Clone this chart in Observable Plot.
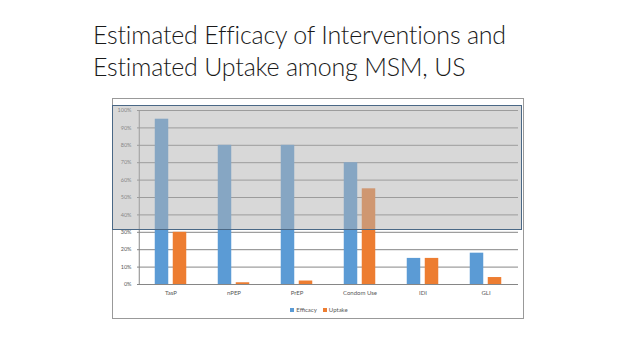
<!DOCTYPE html>
<html>
<head>
<meta charset="utf-8">
<script src="https://cdn.jsdelivr.net/npm/d3@7"></script>
<script src="https://cdn.jsdelivr.net/npm/@observablehq/plot@0.6"></script>
<style>
  html, body { margin: 0; padding: 0; background: #fff; }
  body { width: 638px; height: 359px; position: relative; overflow: hidden; font-family: Lato, "Open Sans", sans-serif; }
  #title { position: absolute; left: 93px; top: 18px; font-size: 25px; line-height: 32px; letter-spacing: -0.2px; color: #1a1a1a; font-weight: 300; white-space: nowrap; }
  #frame { position: absolute; left: 112px; top: 98px; width: 410px; height: 219px; border: 1px solid #999; }
  #chart { position: absolute; left: 113px; top: 99px; }
  #overlay { position: absolute; left: 112px; top: 105px; width: 408px; height: 123px; background: rgba(178,178,178,0.5); border: 1px solid #4a6886; }
  #legend { position: absolute; left: 0; width: 638px; top: 306px; text-align: center; font-size: 6px; color: #595959; }
  #legend span.sw { display: inline-block; width: 4px; height: 4px; margin-right: 2px; vertical-align: middle; }
  #legend span.item { margin: 0 3px; }
</style>
</head>
<body>
<div id="title">Estimated Efficacy of Interventions and<br>Estimated Uptake among MSM, US</div>
<div id="frame"></div>
<div id="chart"></div>
<div id="overlay"></div>
<div id="legend"></div>
<script>
const categories = ["TasP", "nPEP", "PrEP", "Condom Use", "IDI", "GLI"];
const seriesNames = ["Efficacy", "Uptake"];
const efficacy = [95, 80, 80, 70, 15, 18];
const uptake = [30, 1, 2, 55, 15, 4];
const yTicks = [0, 10, 20, 30, 40, 50, 60, 70, 80, 90, 100];
const colors = ["#5B9BD5", "#ED7D31"];

const rows = [];
categories.forEach((c, i) => {
  rows.push({category: c, series: seriesNames[0], value: efficacy[i]});
  rows.push({category: c, series: seriesNames[1], value: uptake[i]});
});

const W = 408, mL = 24, mR = 3;
const band = (W - mL - mR) / categories.length;
const barW = 14, gap = 4;
const outer = (band - 2 * barW - gap) / 2;

const chart = Plot.plot({
  width: W,
  height: 199,
  marginLeft: mL,
  marginRight: mR,
  marginTop: 11,
  marginBottom: 14,
  style: {fontFamily: "Lato, 'Open Sans', sans-serif", background: "transparent"},
  x: {domain: categories, padding: 0, label: null},
  y: {domain: [0, 100], label: null},
  color: {domain: seriesNames, range: colors},
  marks: [
    Plot.ruleY(yTicks, {stroke: "#868686", strokeWidth: 1}),
    Plot.ruleX([categories[0]], {x: d => d, y1: 0, y2: 100, dx: -band / 2, stroke: "#868686"}),
    Plot.barY(rows.filter(d => d.series === seriesNames[0]), {x: "category", y: "value", fill: colors[0], insetLeft: outer, insetRight: outer + barW + gap}),
    Plot.barY(rows.filter(d => d.series === seriesNames[1]), {x: "category", y: "value", fill: colors[1], insetLeft: outer + barW + gap, insetRight: outer}),
    Plot.axisY({ticks: yTicks, tickFormat: d => d + "%", tickSize: 0, tickPadding: 6, fontSize: 5.5, fill: "#595959"}),
    Plot.axisX({tickSize: 0, tickPadding: 6, fontSize: 6, fill: "#595959"})
  ]
});
document.getElementById("chart").appendChild(chart);

const legend = document.getElementById("legend");
seriesNames.forEach((s, i) => {
  const item = document.createElement("span");
  item.className = "item";
  const sw = document.createElement("span");
  sw.className = "sw";
  sw.style.background = colors[i];
  item.appendChild(sw);
  item.appendChild(document.createTextNode(s));
  legend.appendChild(item);
});
</script>
</body>
</html>
